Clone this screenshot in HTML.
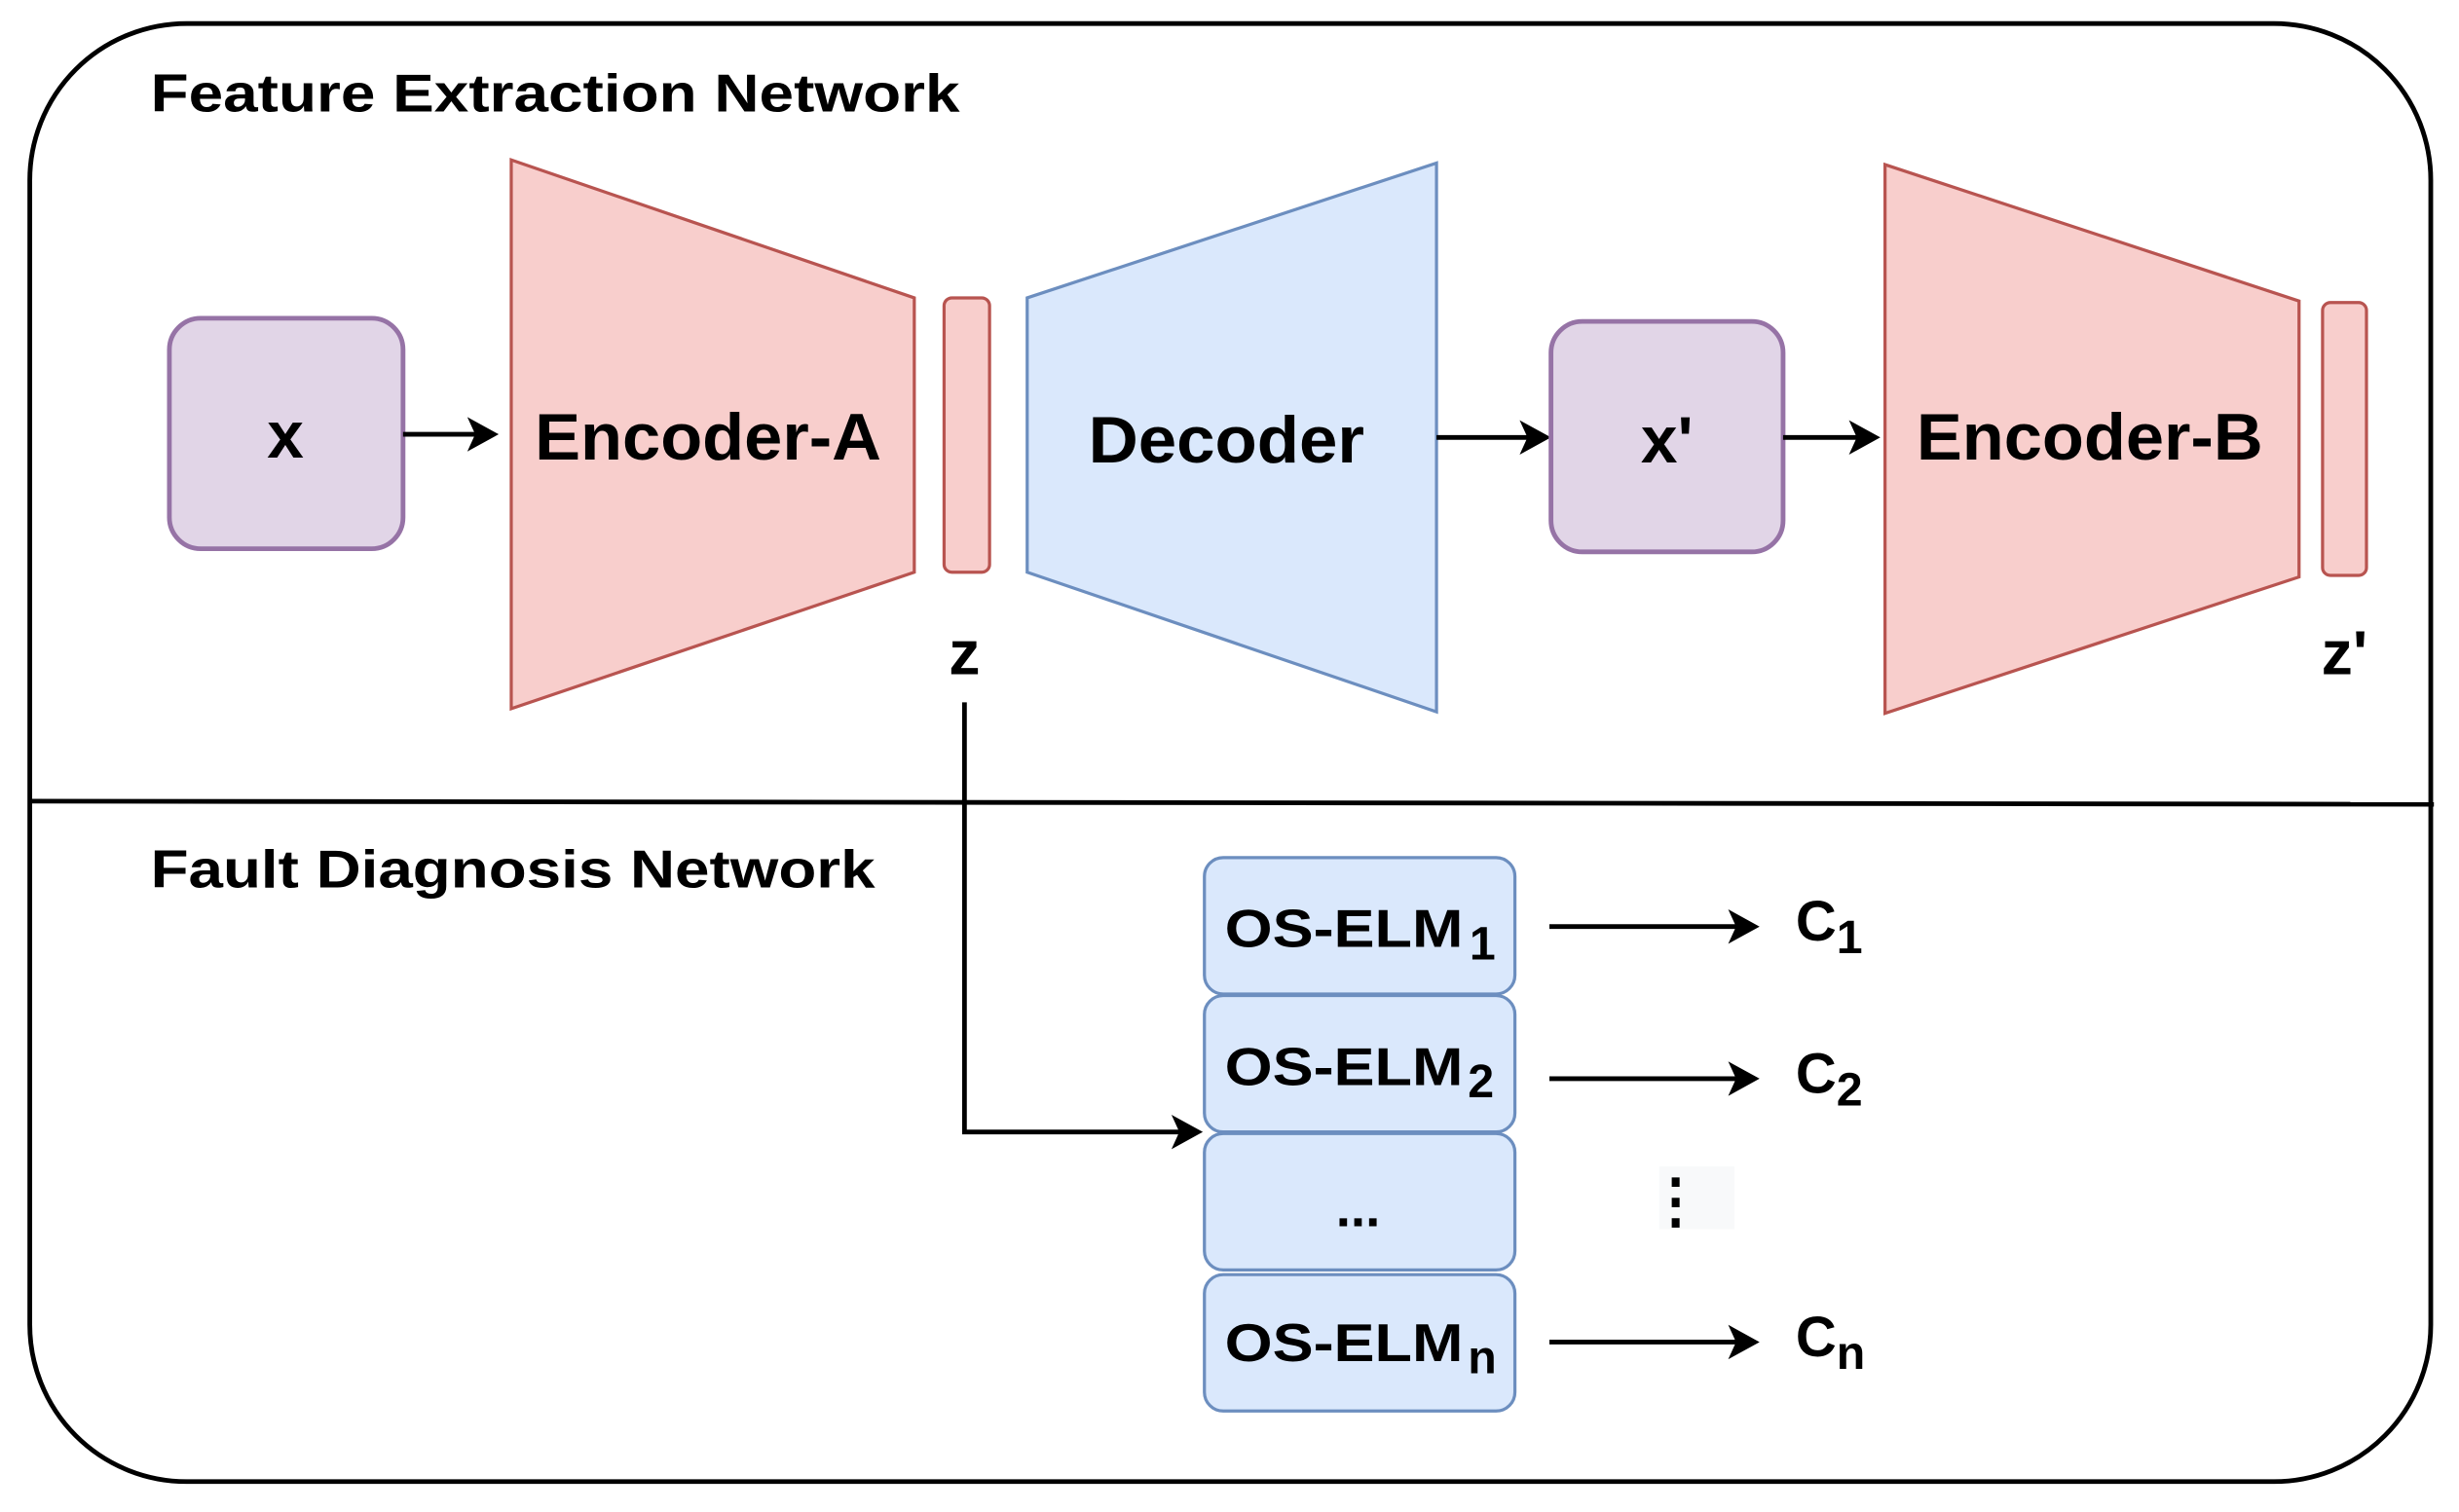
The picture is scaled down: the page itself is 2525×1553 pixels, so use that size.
<!DOCTYPE html>
<html><head><meta charset="utf-8"><style>
html,body{margin:0;padding:0;background:#fff;}
svg{display:block;}
text{font-family:"Liberation Sans",Arial,sans-serif;font-weight:bold;fill:#000;}
</style></head><body>
<svg width="2525" height="1553" viewBox="0 0 1568 964.4" preserveAspectRatio="none" xmlns="http://www.w3.org/2000/svg">
<rect x="19" y="15" width="1531" height="930" rx="100" ry="100" fill="#fff" stroke="#000" stroke-width="3"/>
<line x1="19" y1="511" x2="1552" y2="513" stroke="#000" stroke-width="3"/>
<text x="96" y="71" font-size="34" textLength="516" lengthAdjust="spacingAndGlyphs">Feature Extraction Network</text>
<text x="96" y="566" font-size="34" textLength="462" lengthAdjust="spacingAndGlyphs">Fault Diagnosis Network</text>

<rect x="108" y="203" width="149" height="147" rx="20" fill="#e1d5e7" stroke="#9673a6" stroke-width="3"/>
<text x="182" y="292" font-size="42" text-anchor="middle">x</text>
<line x1="257" y1="277" x2="305" y2="277" stroke="#000" stroke-width="3"/>
<polygon points="318,277 298,266 303,277 298,288" fill="#000"/>

<polygon points="326,102 583,190 583,365 326,452" fill="#f8cecc" stroke="#b85450" stroke-width="2"/>
<text x="341" y="293" font-size="42" textLength="221" lengthAdjust="spacingAndGlyphs">Encoder-A</text>
<rect x="602" y="190" width="29" height="175" rx="5" fill="#f8cecc" stroke="#b85450" stroke-width="2"/>
<text x="615" y="430" font-size="40" text-anchor="middle">z</text>

<polygon points="655,190 916,104 916,454 655,365" fill="#dae8fc" stroke="#6c8ebf" stroke-width="2"/>
<text x="694" y="295" font-size="42" textLength="176" lengthAdjust="spacingAndGlyphs">Decoder</text>
<line x1="916" y1="279" x2="976" y2="279" stroke="#000" stroke-width="3"/>
<polygon points="989,279 969,268 974,279 969,290" fill="#000"/>

<rect x="989" y="205" width="148" height="147" rx="20" fill="#e1d5e7" stroke="#9673a6" stroke-width="3"/>
<text x="1063" y="295" font-size="42" text-anchor="middle">x'</text>
<line x1="1137" y1="279" x2="1186" y2="279" stroke="#000" stroke-width="3"/>
<polygon points="1199,279 1179,268 1184,279 1179,290" fill="#000"/>

<polygon points="1202,105 1466,192 1466,368 1202,455" fill="#f8cecc" stroke="#b85450" stroke-width="2"/>
<text x="1222" y="293" font-size="42" textLength="221" lengthAdjust="spacingAndGlyphs">Encoder-B</text>
<rect x="1481" y="193" width="28" height="174" rx="5" fill="#f8cecc" stroke="#b85450" stroke-width="2"/>
<text x="1495" y="430" font-size="40" text-anchor="middle">z'</text>

<polyline points="615,448 615,722 753,722" fill="none" stroke="#000" stroke-width="3"/>
<polygon points="767,722 747,711 752,722 747,733" fill="#000"/>

<g fill="#dae8fc" stroke="#6c8ebf" stroke-width="2">
<rect x="768" y="547" width="198" height="87" rx="12"/>
<rect x="768" y="635" width="198" height="87" rx="12"/>
<rect x="768" y="723" width="198" height="87" rx="12"/>
<rect x="768" y="813" width="198" height="87" rx="12"/>
</g>
<text x="781" y="604" font-size="34" textLength="152" lengthAdjust="spacingAndGlyphs">OS-ELM</text><text x="937" y="612" font-size="30">1</text>
<text x="781" y="692" font-size="34" textLength="152" lengthAdjust="spacingAndGlyphs">OS-ELM</text><text x="936" y="700" font-size="30">2</text>
<text x="866" y="782" font-size="34" text-anchor="middle">...</text>
<text x="781" y="868" font-size="34" textLength="152" lengthAdjust="spacingAndGlyphs">OS-ELM</text><text x="936" y="876" font-size="30">n</text>

<g stroke="#000" stroke-width="3">
<line x1="988" y1="591" x2="1108" y2="591"/>
<line x1="988" y1="688" x2="1108" y2="688"/>
<line x1="988" y1="856" x2="1108" y2="856"/>
</g>
<polygon points="1122,591 1102,580 1107,591 1102,602" fill="#000"/>
<polygon points="1122,688 1102,677 1107,688 1102,699" fill="#000"/>
<polygon points="1122,856 1102,845 1107,856 1102,867" fill="#000"/>
<text x="1145" y="600" font-size="36">C<tspan font-size="30" dy="8">1</tspan></text>
<text x="1145" y="697" font-size="36">C<tspan font-size="30" dy="8">2</tspan></text>
<text x="1145" y="865" font-size="36">C<tspan font-size="30" dy="8">n</tspan></text>
<rect x="1058" y="744" width="48" height="40" fill="#f8f9fa"/>
<g fill="#000"><rect x="1066" y="751" width="5" height="6"/><rect x="1066" y="764" width="5" height="6"/><rect x="1066" y="777" width="5" height="6"/></g>
</svg>
</body></html>
